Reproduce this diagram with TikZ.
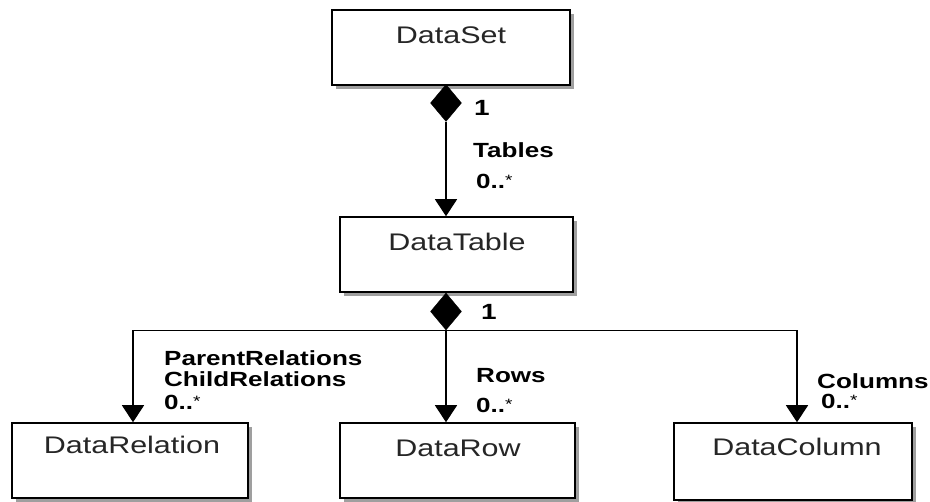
\documentclass[tikz,border=0pt]{standalone}
\usepackage{fontspec}
\setmainfont{Liberation Sans}[FakeStretch=1.27]
\usetikzlibrary{arrows.meta,shapes.geometric,shadows}
\newcommand{\mystar}{\raisebox{3pt}{\fontsize{15}{15}\selectfont\mdseries *}}
\tikzset{
  umlbox/.style={draw=black, line width=1.5pt, fill=white, inner sep=0pt,
    drop shadow={shadow xshift=4pt, shadow yshift=-4pt, fill=gray!75, opacity=1}},
  boxtext/.style={inner sep=0pt, text=black!85, font=\fontsize{24}{28}\selectfont},
  lbl/.style={inner sep=0pt, anchor=west, font=\fontsize{20.5}{24}\selectfont\bfseries},
  mult/.style={inner sep=0pt, anchor=west, font=\fontsize{22}{24}\selectfont\bfseries},
  comp/.style={diamond, fill=black, draw=black, inner sep=0pt, minimum width=31pt, minimum height=37pt},
  conn/.style={line width=1.3pt, -{Triangle[width=22pt,length=17pt]}},
  plain/.style={line width=1.3pt}
}
\begin{document}
\begin{tikzpicture}[x=1pt, y=-1pt]
\useasboundingbox (0,0) rectangle (930,502);
% boxes
\node[umlbox, minimum width=238pt, minimum height=75pt] (ds) at (451,47.5) {};
\node[umlbox, minimum width=233pt, minimum height=75pt] (dt) at (456.5,254.5) {};
\node[umlbox, minimum width=236pt, minimum height=75pt] (drel) at (130,460.5) {};
\node[umlbox, minimum width=235pt, minimum height=75pt] (drow) at (457.5,460.5) {};
\node[umlbox, minimum width=238pt, minimum height=77pt] (dcol) at (793,461.5) {};
% box texts
\node[boxtext] (dsT) at (451,35) {DataSet};
\node[boxtext] (dtT) at (457,242) {DataTable};
\node[boxtext] (drelT) at (132,445) {DataRelation};
\node[boxtext] (drowT) at (458,448) {DataRow};
\node[boxtext] (dcolT) at (797,447) {DataColumn};
% composition diamonds
\node[comp] (d1) at (446,103) {};
\node[comp] (d2) at (446,311.5) {};
% connectors
\draw[conn] (d1.south) -- (d1.south |- dt.north);
\coordinate (relEnd) at ([xshift=3pt]drel.north);
\coordinate (colEnd) at ([xshift=4pt]dcol.north);
\draw[conn] (d2.south) -- (d2.south |- drow.north);
\draw[conn] (d2.south) -| (relEnd);
\draw[conn] (d2.south) -| (colEnd);
% labels
\node[mult] (m1) at (474,108) {1};
\node[lbl] (tab) at (473,150) {Tables};
\node[lbl] (tabm) at (476,181) {0..\mystar};
\node[mult] (m2) at (481,312) {1};
\node[lbl] (pr) at (164,358) {ParentRelations};
\node[lbl] (cr) at (164,379) {ChildRelations};
\node[lbl] (relm) at (164,402) {0..\mystar};
\node[lbl] (rows) at (476,376) {Rows};
\node[lbl] (rowm) at (476,405) {0..\mystar};
\node[lbl] (cols) at (817,381) {Columns};
\node[lbl] (colm) at (821,401) {0..\mystar};
\end{tikzpicture}
\end{document}
